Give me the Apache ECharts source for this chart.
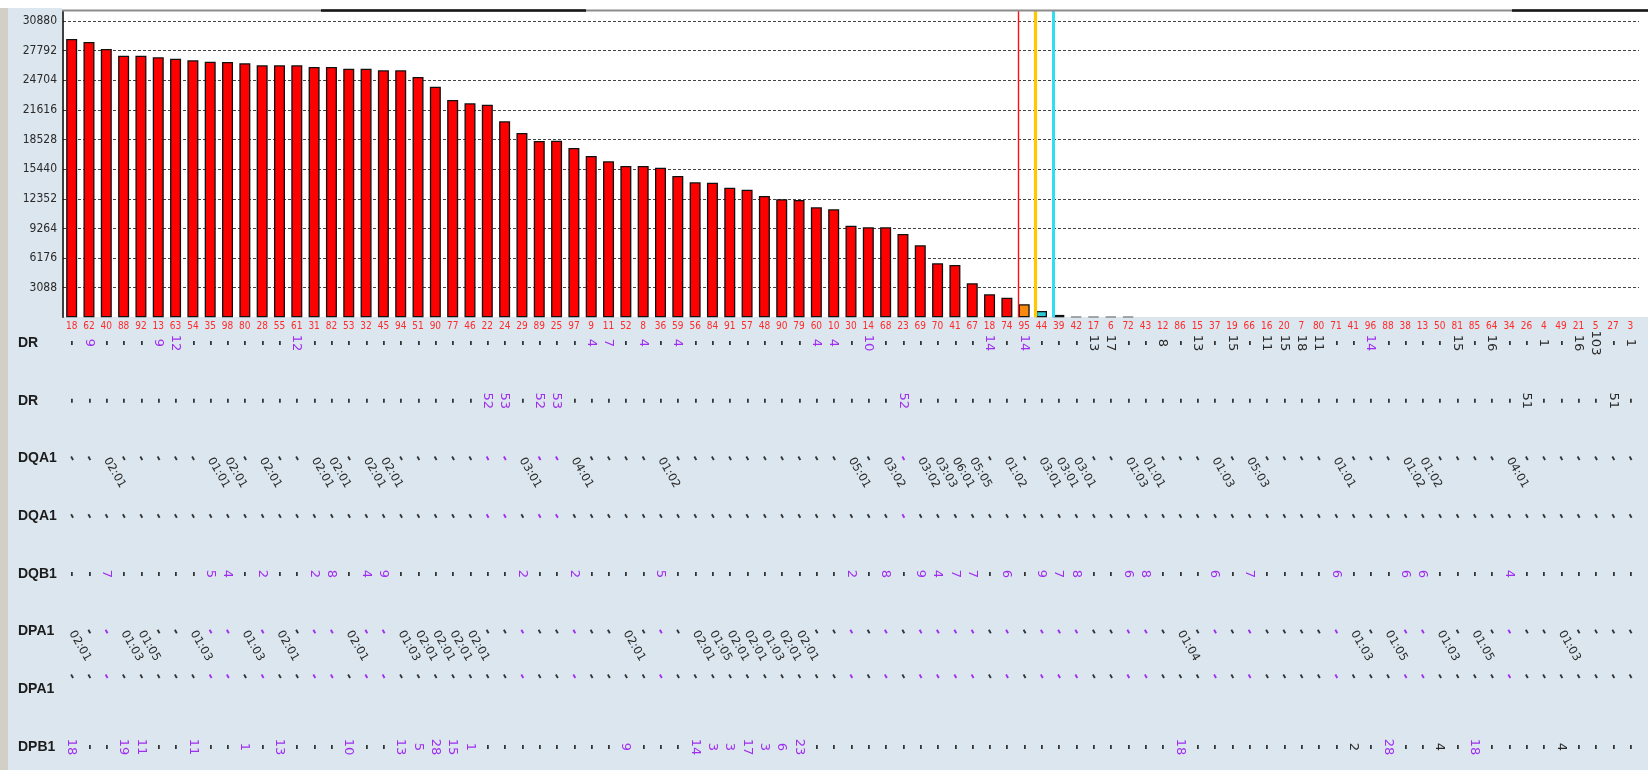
<!DOCTYPE html>
<html>
<head>
<meta charset="utf-8">
<script src="https://cdn.jsdelivr.net/npm/echarts@6/dist/echarts.min.js"></script>
<style>
  html, body { margin: 0; padding: 0; background: #dbe6ee; }
  #chart { width: 1648px; height: 770px; }
</style>
</head>
<body>
<div id="chart"></div>
<script>
// Ranked donor ids along the x axis, best score first
const categories = ['18','62','40','88','92','13','63','54','35','98','80','28','55','61','31','82','53','32','45','94',
  '51','90','77','46','22','24','29','89','25','97','9','11','52','8','36','59','56','84','91','57',
  '48','90','79','60','10','30','14','68','23','69','70','41','67','18','74','95','44','39','42','17',
  '6','72','43','12','86','15','37','19','66','16','20','7','80','71','41','96','88','38','13','50',
  '81','85','64','34','26','4','49','21','5','27','3'];

// Score per donor
const scores = [29005, 28692, 27963, 27267, 27267, 27094, 26955, 26781, 26642, 26607,
  26469, 26261, 26261, 26261, 26087, 26087, 25913, 25913, 25739, 25739,
  25044, 24037, 22648, 22301, 22161, 20425, 19209, 18380, 18400, 17646,
  16812, 16257, 15770, 15770, 15597, 14728, 14068, 14033, 13512, 13304,
  12644, 12297, 12227, 11463, 11255, 9552, 9379, 9379, 8684, 7503,
  5627, 5454, 3543, 2397, 2049, 1355, 660, 250, 60, 60,
  60, 60, 0, 0, 0, 0, 0, 0, 0, 0,
  0, 0, 0, 0, 0, 0, 0, 0, 0, 0,
  0, 0, 0, 0, 0, 0, 0, 0, 0, 0, 0];

// Score axis: step between ticks and top of the range
const scoreStep = 3088;
const scoreMax = 31920;

// Threshold markers, in category-slot units
const markerPositions = [55.15, 56.15, 57.15];

// Locus rows below the bars
const rowNames = ['DR', 'DR', 'DQA1', 'DQA1', 'DQB1', 'DPA1', 'DPA1', 'DPB1'];

// [donor slot, value, matched?]
const drTypes = [[1,'9',1],[5,'9',1],[6,'12',1],[13,'12',1],[30,'4',1],[31,'7',1],[33,'4',1],[35,'4',1],
  [43,'4',1],[44,'4',1],[46,'10',1],[53,'14',1],[55,'14',1],[59,'13',0],[60,'17',0],[63,'8',0],
  [65,'13',0],[67,'15',0],[69,'11',0],[70,'15',0],[71,'18',0],[72,'11',0],[75,'14',1],[80,'15',0],
  [82,'16',0],[85,'1',0],[87,'16',0],[88,'103',0],[90,'1',0]];
const drGroups = [[24,'52',1],[25,'53',1],[27,'52',1],[28,'53',1],[48,'52',1],[84,'51',0],[89,'51',0]];

// [donor slot, allele]
const dqa1Alleles = [[2,'02:01'],[8,'01:01'],[9,'02:01'],[11,'02:01'],[14,'02:01'],[15,'02:01'],[17,'02:01'],
  [18,'02:01'],[26,'03:01'],[29,'04:01'],[34,'01:02'],[45,'05:01'],[47,'03:02'],[49,'03:02'],[50,'03:03'],
  [51,'06:01'],[52,'05:05'],[54,'01:02'],[56,'03:01'],[57,'03:01'],[58,'03:01'],[61,'01:03'],[62,'01:01'],
  [66,'01:03'],[68,'05:03'],[73,'01:01'],[77,'01:02'],[78,'01:02'],[83,'04:01']];
const dqa1Hits = [24, 25, 27, 28, 48];

const dqb1Types = [[2,'7',1],[8,'5',1],[9,'4',1],[11,'2',1],[14,'2',1],[15,'8',1],[17,'4',1],[18,'9',1],
  [26,'2',1],[29,'2',1],[34,'5',1],[45,'2',1],[47,'8',1],[49,'9',1],[50,'4',1],[51,'7',1],[52,'7',1],
  [54,'6',1],[56,'9',1],[57,'7',1],[58,'8',1],[61,'6',1],[62,'8',1],[66,'6',1],[68,'7',1],[73,'6',1],
  [77,'6',1],[78,'6',1],[83,'4',1]];

const dpa1Alleles = [[0,'02:01'],[3,'01:03'],[4,'01:05'],[7,'01:03'],[10,'01:03'],[12,'02:01'],[16,'02:01'],
  [19,'01:03'],[20,'02:01'],[21,'02:01'],[22,'02:01'],[23,'02:01'],[32,'02:01'],[36,'02:01'],[37,'01:05'],
  [38,'02:01'],[39,'02:01'],[40,'01:03'],[41,'02:01'],[42,'02:01'],[64,'01:04'],[74,'01:03'],[76,'01:05'],
  [79,'01:03'],[81,'01:05'],[86,'01:03']];

const dpb1Types = [[0,'18',1],[3,'19',1],[4,'11',1],[7,'11',1],[10,'1',1],[12,'13',1],[16,'10',1],[19,'13',1],
  [20,'5',1],[21,'28',1],[22,'15',1],[23,'1',1],[32,'9',1],[36,'14',1],[37,'3',1],[38,'3',1],[39,'17',1],
  [40,'3',1],[41,'6',1],[42,'23',1],[64,'18',1],[74,'2',0],[76,'28',1],[79,'4',0],[81,'18',1],[86,'4',0]];

// ---- styling ----
const PURPLE = '#a02ef0';
const INK = '#2a2a2a';
const COND = "'DejaVu Sans Condensed','Liberation Sans',sans-serif";
const PLAIN = "'Liberation Sans',Arial,sans-serif";
const WIDE = "'DejaVu Sans',sans-serif";

const dqb1Slots = dqb1Types.map(d => d[0]);
const rows = [
  { entries: drTypes,     kind: 'num',    hits: [] },
  { entries: drGroups,    kind: 'num',    hits: [] },
  { entries: dqa1Alleles, kind: 'allele', hits: dqa1Hits },
  { entries: [],          kind: 'allele', hits: dqa1Hits },
  { entries: dqb1Types,   kind: 'num',    hits: [] },
  { entries: dpa1Alleles, kind: 'allele', hits: dqb1Slots },
  { entries: [],          kind: 'allele', hits: dqb1Slots, shift: -13 },
  { entries: dpb1Types,   kind: 'num',    hits: [] }
];

// One cell per donor and row: either the typed value or a dash
const panelData = [];
const panelMeta = [];
rows.forEach((row, r) => {
  const bySlot = new Map(row.entries.map(e => [e[0], e]));
  categories.forEach((_, i) => {
    const e = bySlot.get(i);
    panelData.push([i, r]);
    if (e) {
      panelMeta.push({ text: e[1], tick: false, hit: row.kind === 'num' && !!e[2], kind: row.kind, shift: 0 });
    } else {
      panelMeta.push({ text: '-', tick: true, hit: row.hits.includes(i), kind: row.kind, shift: row.shift || 0 });
    }
  });
});

function renderCell(params, api) {
  const m = panelMeta[params.dataIndex];
  const p = api.coord([api.value(0), api.value(1)]);
  const rotation = m.kind === 'num' ? -Math.PI / 2 : -Math.PI / 3;
  const leftAligned = !m.tick && m.kind === 'allele';
  let font;
  if (m.tick) font = 'bold 13px ' + WIDE;
  else if (m.kind === 'num') font = '13px ' + WIDE;
  else font = '11.5px ' + WIDE;
  const align = leftAligned ? 'left' : 'center';
  return {
    type: 'text',
    x: p[0],
    y: p[1] + m.shift,
    rotation: rotation,
    silent: true,
    style: {
      text: m.text,
      fill: m.hit ? PURPLE : (m.tick ? '#333' : INK),
      font: font,
      textAlign: align,
      align: align,
      textVerticalAlign: 'middle',
      verticalAlign: 'middle'
    }
  };
}

// Bars: red for ranked donors, flagged colours next to the thresholds, grey for near-zero
const barData = scores.map((v, i) => {
  let fill = '#ff0000', border = '#111', bw = 1.3;
  if (i === 55) fill = '#f7890c';
  else if (i === 56) fill = '#2ec9d2';
  else if (i === 57) fill = '#222';
  else if (v > 0 && v < 200) { fill = '#8a8a8a'; border = '#8a8a8a'; }
  if (v === 0) bw = 0;
  return { value: v, itemStyle: { color: fill, borderColor: border, borderWidth: bw } };
});

const markerStyles = [
  { color: '#ff1010', width: 1.4 },
  { color: '#ffc800', width: 3.2 },
  { color: '#30def0', width: 3 }
];

const chart = echarts.init(document.getElementById('chart'), null, { renderer: 'canvas' });

chart.setOption({
  backgroundColor: 'transparent',
  animation: false,
  graphic: {
    elements: [
      { type: 'rect', z: -20, silent: true, shape: { x: 0, y: 0, width: 1648, height: 8 }, style: { fill: '#ffffff' } },
      { type: 'rect', z: -20, silent: true, shape: { x: 62, y: 8, width: 1586, height: 309 }, style: { fill: '#ffffff' } },
      { type: 'rect', z: -20, silent: true, shape: { x: 0, y: 8, width: 8, height: 762 }, style: { fill: '#d3cfc7' } },
      { type: 'line', z: 50, silent: true, shape: { x1: 62, y1: 10.5, x2: 1648, y2: 10.5 }, style: { stroke: '#8c8c8c', lineWidth: 2 } },
      { type: 'line', z: 51, silent: true, shape: { x1: 321, y1: 10.5, x2: 586, y2: 10.5 }, style: { stroke: '#151515', lineWidth: 2.5 } },
      { type: 'line', z: 51, silent: true, shape: { x1: 1512, y1: 10.5, x2: 1648, y2: 10.5 }, style: { stroke: '#151515', lineWidth: 2.5 } }
    ]
  },
  grid: [
    { left: 63, right: 9, top: 11, bottom: 452.7, outerBoundsMode: 'none' },
    { left: 63, right: 9, top: 343, bottom: 23, outerBoundsMode: 'none' }
  ],
  xAxis: [
    {
      type: 'category', gridIndex: 0, data: categories,
      axisLine: { show: false }, axisTick: { show: false },
      axisLabel: { interval: 0, color: '#ff2a2a', fontSize: 10, fontFamily: COND, margin: 4 }
    },
    { type: 'value', gridIndex: 0, min: 0, max: categories.length, show: false },
    { type: 'category', gridIndex: 1, data: categories, show: false }
  ],
  yAxis: [
    {
      type: 'value', gridIndex: 0, min: 0, max: scoreMax, interval: scoreStep,
      axisLine: { show: true, lineStyle: { color: '#000', width: 1.5 } },
      axisTick: { show: false },
      axisLabel: {
        showMinLabel: false, showMaxLabel: false, color: '#2a2a2a', fontSize: 12, fontFamily: COND, margin: 6,
        formatter: v => String(v)
      },
      splitLine: { show: true, showMinLine: false, showMaxLine: false, lineStyle: { color: '#444', type: [3, 2], width: 1 } }
    },
    {
      type: 'category', gridIndex: 1, data: rowNames, inverse: true, boundaryGap: false,
      axisLine: { show: false }, axisTick: { show: false }, splitLine: { show: false },
      axisLabel: { align: 'left', margin: 45, fontSize: 14, fontWeight: 'bold', fontFamily: PLAIN, color: '#1c1c1c' }
    }
  ],
  series: [
    {
      type: 'bar', xAxisIndex: 0, yAxisIndex: 0, data: barData, barWidth: 11
    },
    {
      type: 'line', xAxisIndex: 1, yAxisIndex: 0, data: [], showSymbol: false,
      markLine: {
        silent: true, symbol: 'none', label: { show: false },
        data: markerPositions.map((x, k) => ({ xAxis: x, lineStyle: { type: 'solid', color: markerStyles[k].color, width: markerStyles[k].width } }))
      }
    },
    {
      type: 'custom', xAxisIndex: 2, yAxisIndex: 1, data: panelData, renderItem: renderCell, silent: true
    }
  ]
});
</script>
</body>
</html>
